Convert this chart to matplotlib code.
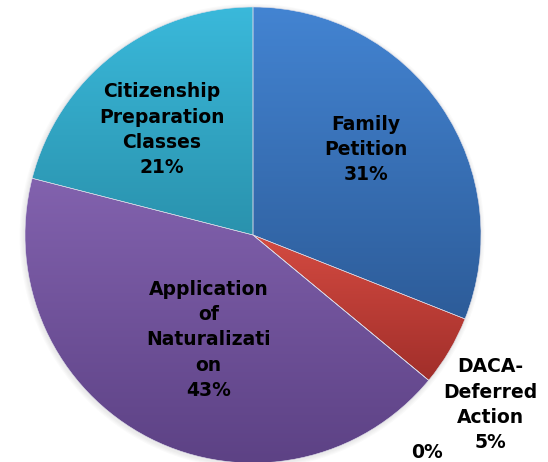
import numpy as np
import matplotlib
matplotlib.use("Agg")
import matplotlib.pyplot as plt
from matplotlib.colors import LinearSegmentedColormap
from matplotlib.patches import Circle

# data (clockwise from 12 o'clock)
categories = ['Family\nPetition', 'DACA-\nDeferred\nAction', '', 'Application\nof\nNaturalizati\non',
              'Citizenship\nPreparation\nClasses']
values = [31, 5, 0, 43, 21]
pct_labels = ['31%', '5%', '0%', '43%', '21%']

# gradient colours per slice (top, bottom)
grads = [('#4384d2', '#2d5c99'),
         ('#d44b41', '#a12e2a'),
         ('#888888', '#888888'),
         ('#8262ae', '#5c4184'),
         ('#3ab9db', '#2a92ad')]

fig = plt.figure(figsize=(5.48, 4.62), dpi=100)
ax = fig.add_axes([0, 0, 1, 1])

# faint shadow around the pie
for k in range(4):
    ax.add_patch(Circle((-0.004, -0.006), 1 + 0.005 * (k + 1), color='#000000',
                        alpha=0.02, lw=0, zorder=0))
ax.add_patch(Circle((0, 0), 1.0, color='white', lw=0, zorder=0.5))

wedges, _ = ax.pie(values, startangle=90, counterclock=False, radius=1,
                   wedgeprops=dict(edgecolor='#dcdce8', linewidth=0.4))

# vertical gradient per wedge, clipped to it
for w, (c1, c2) in zip(wedges, grads):
    ys = w.get_path().vertices[:, 1]
    cmap = LinearSegmentedColormap.from_list('g', [c2, c1])
    grad = np.linspace(0, 1, 256).reshape(-1, 1)
    im = ax.imshow(grad, cmap=cmap, extent=(-1, 1, ys.min(), ys.max() + 1e-6),
                   origin='lower', aspect='auto', zorder=w.get_zorder() - 0.1)
    im.set_clip_path(w)
    w.set_facecolor('none')

# label placement: radius and angle offset relative to wedge mid-angle
label_r = [0.62, 1.28, 1.22, 0.50, 0.61]
label_da = [3, -5, -11.7, 4, 3]
for w, cat, pct, r, da in zip(wedges, categories, pct_labels, label_r, label_da):
    mid = np.deg2rad((w.theta1 + w.theta2) / 2 + da)
    txt = (cat + '\n' + pct) if cat else pct
    ax.text(r * np.cos(mid), r * np.sin(mid), txt, ha='center', va='center',
            fontsize=13.5, fontweight='bold', color='black', linespacing=1.42,
            family='DejaVu Sans')

ax.set_xlim(-253 / 228, (548 - 253) / 228)
ax.set_ylim(-(462 - 235) / 228, 235 / 228)
ax.set_aspect('equal')
ax.axis('off')

fig.savefig('out.png', dpi=100)
